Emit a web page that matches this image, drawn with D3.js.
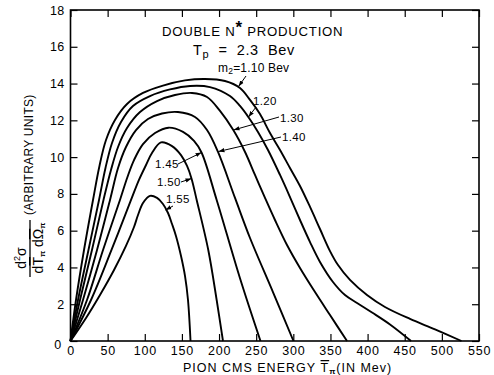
<!DOCTYPE html>
<html><head><meta charset="utf-8">
<script src="https://cdn.jsdelivr.net/npm/d3@7"></script>
<style>
body{margin:0;background:#fff}
text{font-family:"Liberation Sans",Arial,sans-serif;fill:#000}
</style>
</head><body>
<svg id="c" width="494" height="375"></svg>
<script>
// ---- data ----
const xTicks = [0,50,100,150,200,250,300,350,400,450,500,550];
const yTicks = [0,2,4,6,8,10,12,14,16,18];
const massLabels = ["1.10","1.20","1.30","1.40","1.45","1.50","1.55"];

const energy110 = [0,7.4,18.2,30.3,39.0,47.8,59.9,76.1,97.6,124.5,154.1,181.1,208,228.2,241.7,255.1,268.6,282.1,295.5,309,322.5,335.9,349.4,360.2,376.3,399.2,423.4,457.1,490.8,526.4];
const value110  = [0,2.23,4.95,7.67,9.52,10.93,12.02,12.89,13.49,13.89,14.17,14.25,14.14,13.76,13.11,12.34,11.31,10.39,9.41,8.43,7.29,6.09,4.89,4.13,3.32,2.50,1.85,1.20,0.63,0];

const energy120 = [0,10.1,24.2,38.4,47.1,55.9,68.0,84.1,107.0,134.0,160.9,187.8,214.7,228.2,239.4,252.4,265.9,282.1,295.5,309.0,322.5,335.9,353.4,369.6,385.8,406.0,430.2,458.5];
const value120  = [0,2.23,4.95,7.67,9.41,10.77,11.91,12.78,13.32,13.68,13.87,13.81,13.32,12.78,12.18,11.37,10.39,9.03,7.83,6.58,5.38,4.30,3.21,2.50,2.07,1.55,0.90,0];

const energy130 = [0,12.8,28.9,44.4,54.5,64.0,76.1,93.6,116.5,140.7,163.6,183.8,201.3,219.2,235.0,248.4,261.9,275.3,291.5,309.0,329.2,349.4,372.3];
const value130  = [0,2.23,4.95,7.67,9.30,10.55,11.58,12.45,13.05,13.38,13.49,13.27,12.51,11.47,10.28,9.03,7.78,6.58,5.22,3.97,2.66,1.41,0];

const energy140 = [0,16.8,35.7,53.2,64.0,74.7,88.2,104.3,123.2,144.7,167.6,183.8,198.6,221.5,241.7,272.6,300.2];
const value140  = [0,2.23,4.95,7.67,9.41,10.55,11.47,12.07,12.37,12.45,12.18,11.47,10.28,7.78,5.60,2.66,0];

const energy145 = [0,22.2,43.8,66.6,76.7,85.5,97.6,113.8,131.9,151.5,166.3,176.4,196.8,228.2,255.8];
const value145  = [0,2.23,4.95,7.67,8.92,9.84,10.71,11.31,11.60,11.37,10.88,10.25,7.67,3.41,0];

const energy150 = [0,27.6,55.2,81.5,92.2,101.7,109.7,121.8,136.7,148.8,156.9,162.9,169.9,185.5,196.8,205.3];
const value150  = [0,2.23,4.95,7.67,8.76,9.57,10.22,10.80,10.60,10.11,9.52,8.84,7.67,4.95,2.23,0];

const energy155 = [0,20.9,39.7,58.6,74.7,85.5,90.9,97.6,107.0,116.5,124.5,131.3,136.7,142.0,148.8,154.2,158.2,161.6];
const value155  = [0,1.25,2.50,3.86,5.17,6.20,6.85,7.50,7.89,7.78,7.45,6.96,6.36,5.71,4.62,3.53,2.23,0];

const seriesEnergy = [energy110,energy120,energy130,energy140,energy145,energy150,energy155];
const seriesValue  = [value110,value120,value130,value140,value145,value150,value155];

// ---- layout ----
const L = 70.5, R = 479, T = 10, B = 341;
const svg = d3.select("#c");
const x = d3.scaleLinear().domain([0,550]).range([L,R]);
const y = d3.scaleLinear().domain([0,18]).range([B,T]);

const tk = 7;
const gx = svg.append("g").attr("transform",`translate(0,${B})`)
  .call(d3.axisBottom(x).tickValues(xTicks).tickSizeInner(-tk).tickSizeOuter(0).tickPadding(5).tickFormat(d3.format("d")));
const gy = svg.append("g").attr("transform",`translate(${L},0)`)
  .call(d3.axisLeft(y).tickValues(yTicks).tickSizeInner(-tk).tickSizeOuter(0).tickPadding(6).tickFormat(d3.format("d")));
const gt = svg.append("g").attr("transform",`translate(0,${T})`)
  .call(d3.axisTop(x).tickValues(xTicks).tickSizeInner(-tk).tickSizeOuter(0).tickFormat(""));
const gr = svg.append("g").attr("transform",`translate(${R},0)`)
  .call(d3.axisRight(y).tickValues(yTicks).tickSizeInner(-tk).tickSizeOuter(0).tickFormat(""));
[gx,gy,gt,gr].forEach(g=>{
  g.select(".domain").remove();
  g.selectAll("line").attr("stroke","#000").attr("stroke-width",1.2);
  g.selectAll("text").attr("font-size",12.5).attr("font-family","Liberation Sans, Arial, sans-serif");
});
gx.selectAll("text").attr("letter-spacing",0.8);
gy.selectAll("text").attr("letter-spacing",0.3);
gy.selectAll(".tick").filter(d=>d===0).select("text").attr("dy","0.6em").attr("dx",-3);

svg.append("rect").attr("x",L).attr("y",T).attr("width",R-L).attr("height",B-T)
  .attr("fill","none").attr("stroke","#000").attr("stroke-width",1.6);

// curves
const line = d3.line().x(d=>x(d[0])).y(d=>y(d[1])).curve(d3.curveCatmullRom.alpha(0.5));
seriesEnergy.forEach((e,i)=>{
  const pts = e.map((t,j)=>[t,seriesValue[i][j]]);
  svg.append("path").attr("d",line(pts)).attr("fill","none")
    .attr("stroke","#000").attr("stroke-width",1.9).attr("stroke-linejoin","round");
});

svg.append("defs").append("marker").attr("id","ah").attr("viewBox","0 0 10 10")
  .attr("refX",10).attr("refY",5).attr("markerWidth",6).attr("markerHeight",6)
  .attr("orient","auto").append("path").attr("d","M0,1.5L10,5L0,8.5z").attr("fill","#000");

// titles
const t1 = svg.append("text").attr("x",162).attr("y",36).attr("font-size",13.2).attr("letter-spacing",0.75);
t1.append("tspan").text("DOUBLE N");
t1.append("tspan").text("*").attr("font-size",17).attr("dy",-3).attr("font-weight","bold");
t1.append("tspan").text("\u00a0PRODUCTION").attr("dy",3);

const t2 = svg.append("text").attr("x",193).attr("y",55).attr("font-size",14.5).attr("letter-spacing",0.6);
t2.append("tspan").text("T");
t2.append("tspan").text("p").attr("font-size",11).attr("dy",3);
t2.append("tspan").text("\u00a0\u00a0=\u00a0\u00a02.3\u00a0\u00a0Bev").attr("dy",-3);

// annotations: label, text pos, arrow from -> to (pixels)
const ann = [
  {t:"m", sub:"2", rest:"=1.10 Bev", tx:218, ty:72, fs:12, ls:0.2, a:[246,76], b:[238.5,86.5]},
  {t:"1.20", tx:253, ty:105, fs:11.5, ls:0.3, a:[256,107], b:[248.5,117]},
  {t:"1.30", tx:280, ty:122, fs:11.5, ls:0.3, a:[279,117], b:[233.5,130]},
  {t:"1.40", tx:282, ty:141, fs:11.5, ls:0.3, a:[281,137], b:[218.5,151.5]},
  {t:"1.45", tx:155, ty:168, fs:11.5, ls:0.3, a:[178,164], b:[201.5,152.5]},
  {t:"1.50", tx:157, ty:186, fs:11.5, ls:0.3, a:[181,182], b:[191.5,178.5]},
  {t:"1.55", tx:166, ty:203, fs:11.5, ls:0.3, a:[173,206], b:[165.5,210]}
];
ann.forEach(d=>{
  const tx = svg.append("text").attr("x",d.tx).attr("y",d.ty).attr("font-size",d.fs).attr("letter-spacing",d.ls);
  tx.append("tspan").text(d.t);
  if(d.sub){
    tx.append("tspan").text(d.sub).attr("font-size",8.5).attr("dy",2);
    tx.append("tspan").text(d.rest).attr("dy",-2);
  }
  svg.append("line").attr("x1",d.a[0]).attr("y1",d.a[1]).attr("x2",d.b[0]).attr("y2",d.b[1])
    .attr("stroke","#000").attr("stroke-width",1).attr("marker-end","url(#ah)");
});

// x axis title
const xt = svg.append("text").attr("x",183).attr("y",372).attr("font-size",12.5).attr("letter-spacing",1);
xt.append("tspan").text("PION CMS ENERGY\u00a0");
xt.append("tspan").text("T").style("text-decoration","overline");
xt.append("tspan").text("π").attr("font-size",8).attr("dy",2).attr("font-weight","bold");
xt.append("tspan").text("(IN Mev)").attr("dy",-2);

// y axis title (rotated)
const yg = svg.append("g").attr("transform","translate(30,248) rotate(-90)");
yg.append("line").attr("x1",-29).attr("x2",28).attr("y1",0).attr("y2",0).attr("stroke","#000").attr("stroke-width",1.3);
const num = yg.append("text").attr("x",-10).attr("y",-4).attr("text-anchor","middle").attr("font-size",14);
num.append("tspan").text("d");
num.append("tspan").text("2").attr("font-size",9).attr("dy",-6);
num.append("tspan").text("σ").attr("dy",6);
const den = yg.append("text").attr("x",0).attr("y",13).attr("text-anchor","middle").attr("font-size",14);
den.append("tspan").text("d");
den.append("tspan").text("T").style("text-decoration","overline");
den.append("tspan").text("π").attr("font-size",8).attr("dy",2).attr("font-weight","bold");
den.append("tspan").text("\u00a0d").attr("dy",-2);
den.append("tspan").text("Ω").style("text-decoration","overline");
den.append("tspan").text("π").attr("font-size",8).attr("dy",2).attr("font-weight","bold");
yg.append("text").attr("x",33).attr("y",3).attr("font-size",12).attr("letter-spacing",0.3).text("(ARBITRARY UNITS)");
</script>
</body></html>
